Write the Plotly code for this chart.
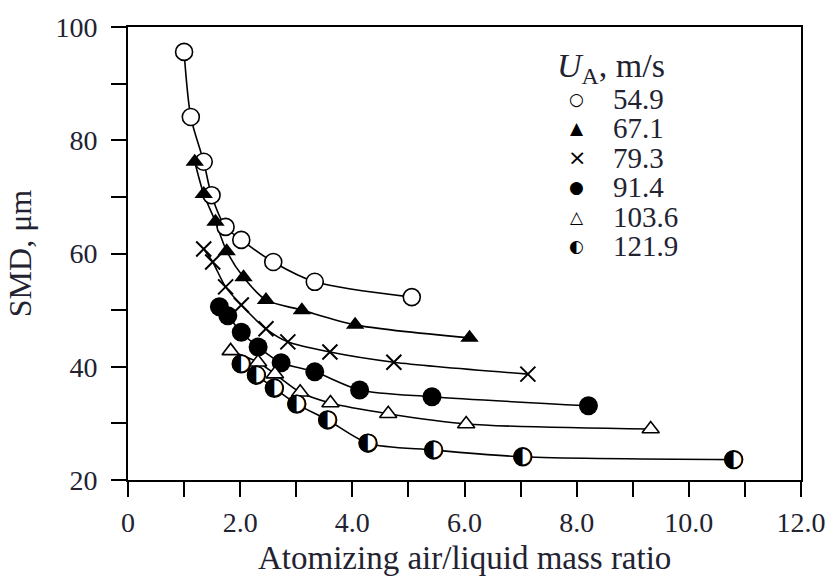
import plotly.graph_objects as go

# ---- data ----
speeds = ["54.9", "67.1", "79.3", "91.4", "103.6", "121.9"]

x_549 = [1.00, 1.12, 1.35, 1.49, 1.74, 2.02, 2.59, 3.33, 5.06]
y_549 = [95.6, 84.1, 76.2, 70.3, 64.7, 62.4, 58.5, 55.0, 52.3]

x_671 = [1.19, 1.35, 1.56, 1.76, 2.06, 2.46, 3.10, 4.05, 6.09]
y_671 = [76.2, 70.5, 65.6, 60.4, 55.8, 51.8, 50.0, 47.4, 45.1]

x_793 = [1.35, 1.51, 1.74, 2.02, 2.46, 2.85, 3.60, 4.74, 7.13]
y_793 = [60.8, 58.5, 54.1, 50.9, 46.7, 44.4, 42.6, 40.8, 38.7]

x_914 = [1.63, 1.78, 2.02, 2.32, 2.73, 3.33, 4.13, 5.42, 8.21]
y_914 = [50.6, 49.0, 46.1, 43.5, 40.7, 39.1, 35.9, 34.7, 33.1]

x_1036 = [1.83, 2.32, 2.62, 3.07, 3.61, 4.64, 6.03, 9.32]
y_1036 = [42.8, 40.8, 38.7, 35.5, 33.6, 31.7, 29.9, 29.0]

x_1219 = [2.02, 2.29, 2.61, 3.01, 3.56, 4.28, 5.45, 7.04, 10.80]
y_1219 = [40.5, 38.5, 36.2, 33.4, 30.6, 26.5, 25.3, 24.1, 23.6]

x_tickvals = [0, 2, 4, 6, 8, 10, 12]
x_ticktext = ["0", "2.0", "4.0", "6.0", "8.0", "10.0", "12.0"]
y_tickvals = [20, 40, 60, 80, 100]
y_ticktext = ["20", "40", "60", "80", "100"]

x_title = "Atomizing air/liquid mass ratio"
y_title = "SMD, μm"
legend_title = "<i>U</i><sub>A</sub>, m/s"

series_x = [x_549, x_671, x_793, x_914, x_1036, x_1219]
series_y = [y_549, y_671, y_793, y_914, y_1036, y_1219]

# ---- style ----
FONT = "Liberation Serif"
TXT = "#222230"
fig = go.Figure()

for xs, ys in zip(series_x, series_y):
    fig.add_trace(go.Scatter(x=xs, y=ys, mode="lines",
                             line=dict(color="black", width=1.6, shape="spline", smoothing=0.8),
                             showlegend=False, hoverinfo="skip"))

marker_styles = [
    dict(symbol="circle", size=17, color="white", line=dict(color="black", width=1.6)),
    dict(symbol="triangle-up", size=16, color="black", line=dict(color="black", width=0)),
    dict(symbol="x-thin", size=15, color="black", line=dict(color="black", width=2)),
    dict(symbol="circle", size=19, color="black", line=dict(color="black", width=0)),
    dict(symbol="triangle-up", size=15, color="white", line=dict(color="black", width=1.6)),
]
for i, m in enumerate(marker_styles):
    fig.add_trace(go.Scatter(x=series_x[i], y=series_y[i], mode="markers", marker=m,
                             name=speeds[i], showlegend=False))

# half-filled circles: white disc + glyph
fig.add_trace(go.Scatter(x=x_1219, y=y_1219, mode="markers",
                         marker=dict(symbol="circle", size=18, color="white",
                                     line=dict(color="black", width=1.4)),
                         showlegend=False, hoverinfo="skip"))
fig.add_trace(go.Scatter(x=x_1219, y=y_1219, mode="text", text=["◐"] * len(x_1219),
                         textposition="middle center",
                         textfont=dict(family="DejaVu Sans", size=24, color="black"),
                         name=speeds[5], showlegend=False))

# ---- layout geometry (figure pixels) ----
W, H = 838, 580
L, T = 128, 25
PW, PH = 682, 455


def px(sx):
    return (sx - L) / PW


def py(sy):
    return (T + PH - sy) / PH


legend_glyphs = ["○", "▲", "×", "●", "△", "◐"]
glyph_sizes = [17, 17, 22, 17, 17, 17]
annotations = [dict(text=legend_title, x=px(561), y=py(66), xref="paper", yref="paper",
                    xanchor="left", yanchor="middle", showarrow=False,
                    font=dict(family=FONT, size=34, color=TXT)),
               dict(text=x_title, x=0.5, y=py(558), xref="paper", yref="paper",
                    xanchor="center", yanchor="middle", showarrow=False,
                    font=dict(family=FONT, size=33, color=TXT))]
for i, (g, s) in enumerate(zip(legend_glyphs, speeds)):
    yy = 97 + i * 29.6
    annotations.append(dict(text=g, x=px(583), y=py(yy), xref="paper", yref="paper",
                            xanchor="center", yanchor="middle", showarrow=False,
                            font=dict(family="DejaVu Sans", size=glyph_sizes[i], color="black")))
    annotations.append(dict(text=s, x=px(617), y=py(yy), xref="paper", yref="paper",
                            xanchor="left", yanchor="middle", showarrow=False,
                            font=dict(family=FONT, size=29, color=TXT)))

axis_common = dict(showline=True, linecolor="black", linewidth=2, mirror=True,
                   ticks="outside", ticklen=15, tickwidth=1.8, tickcolor="black",
                   showgrid=False, zeroline=False,
                   tickfont=dict(family=FONT, size=28, color=TXT))

fig.update_layout(
    width=W, height=H,
    margin=dict(l=L, r=W - L - PW, t=T, b=H - T - PH),
    paper_bgcolor="white", plot_bgcolor="white",
    xaxis=dict(range=[0, 12], tickmode="array", tickvals=x_tickvals, ticktext=x_ticktext,
               ticklabelstandoff=1,
               minor=dict(dtick=1, ticks="outside", ticklen=15, tickwidth=1.8,
                          tickcolor="black", showgrid=False),
               **axis_common),
    yaxis=dict(range=[20, 100], tickmode="array", tickvals=y_tickvals, ticktext=y_ticktext,
               ticklabelstandoff=8,
               minor=dict(dtick=10, ticks="outside", ticklen=15, tickwidth=1.8,
                          tickcolor="black", showgrid=False),
               title=dict(text=y_title, standoff=14,
                          font=dict(family=FONT, size=32, color=TXT)), **axis_common),
    annotations=annotations,
    showlegend=False,
)

# remove the page's default body margin so the figure sits at the window's corner
fig.write_html(
    "out.html",
    config={"displayModeBar": False},
    post_script="document.body.style.margin='0';"
                "document.body.style.overflow='hidden';"
                "document.documentElement.style.overflow='hidden';",
)
